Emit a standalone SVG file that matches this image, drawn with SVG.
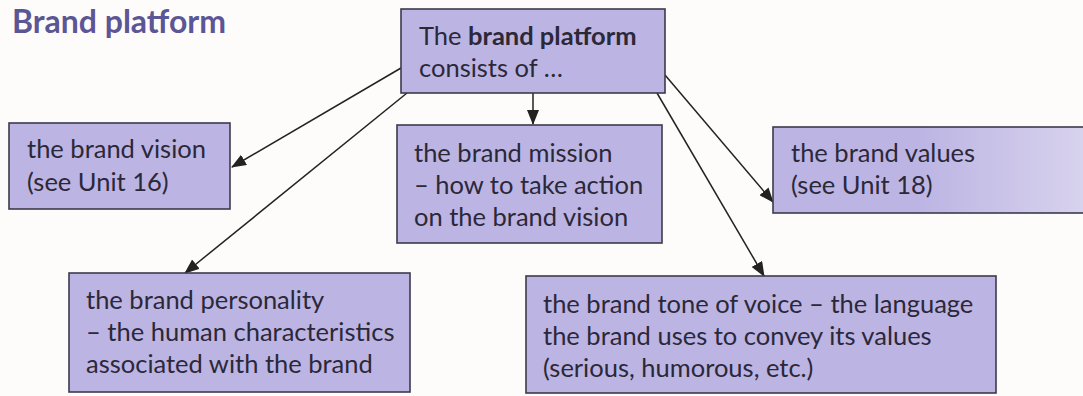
<svg xmlns="http://www.w3.org/2000/svg" width="1083" height="396" viewBox="0 0 1083 396">
<defs>
<marker id="ah" markerUnits="userSpaceOnUse" markerWidth="16" markerHeight="12" refX="14" refY="6" orient="auto">
<path d="M0,0 L15,6 L0,12 Z" fill="#222"/>
</marker>
<linearGradient id="valgrad" x1="0" y1="0" x2="1" y2="0">
<stop offset="0" stop-color="#bcb4e3"/>
<stop offset="0.45" stop-color="#bcb4e3"/>
<stop offset="1" stop-color="#d9d4ee"/>
</linearGradient>
<style>
.box{fill:#bcb4e3;stroke:#3c3a4c;stroke-width:1.6}
.t{font-family:Lato,"Liberation Sans",sans-serif;font-size:25.5px;fill:#2b2838}
.b{font-weight:bold}
.title{font-family:Lato,"Liberation Sans",sans-serif;font-size:32px;font-weight:bold;fill:#5b5696}
.conn{stroke:#222;stroke-width:1.5;fill:none;marker-end:url(#ah)}
</style>
</defs>
<rect width="1083" height="396" fill="#fdfcfb"/>
<text class="title" x="12" y="33">Brand platform</text>

<g id="connectors">
<line class="conn" x1="401" y1="68" x2="232" y2="167"/>
<line class="conn" x1="407" y1="93" x2="185" y2="273"/>
<line class="conn" x1="533" y1="93" x2="533" y2="124"/>
<line class="conn" x1="665" y1="75" x2="773" y2="202"/>
<line class="conn" x1="657" y1="93" x2="764" y2="276"/>
</g>

<g id="platform">
<rect class="box" x="401" y="9" width="264" height="84"/>
<text class="t" x="419" y="45">The <tspan class="b">brand platform</tspan></text>
<text class="t" x="419" y="77">consists of …</text>
</g>

<g id="vision">
<rect class="box" x="9" y="123" width="221" height="86"/>
<text class="t" x="27" y="158">the brand vision</text>
<text class="t" x="27" y="191">(see Unit 16)</text>
</g>

<g id="mission">
<rect class="box" x="397" y="125" width="265" height="118"/>
<text class="t" x="414" y="162">the brand mission</text>
<text class="t" x="414" y="194">– how to take action</text>
<text class="t" x="414" y="226">on the brand vision</text>
</g>

<g id="values">
<rect class="box" x="773" y="127" width="320" height="86" style="fill:url(#valgrad)"/>
<text class="t" x="791" y="162">the brand values</text>
<text class="t" x="791" y="194">(see Unit 18)</text>
</g>

<g id="personality">
<rect class="box" x="69" y="273" width="341" height="119"/>
<text class="t" x="86" y="309">the brand personality</text>
<text class="t" x="86" y="341">– the human characteristics</text>
<text class="t" x="86" y="373">associated with the brand</text>
</g>

<g id="tone">
<rect class="box" x="526" y="276" width="470" height="117"/>
<text class="t" x="543" y="313">the brand tone of voice – the language</text>
<text class="t" x="543" y="345">the brand uses to convey its values</text>
<text class="t" x="543" y="377">(serious, humorous, etc.)</text>
</g>
</svg>
